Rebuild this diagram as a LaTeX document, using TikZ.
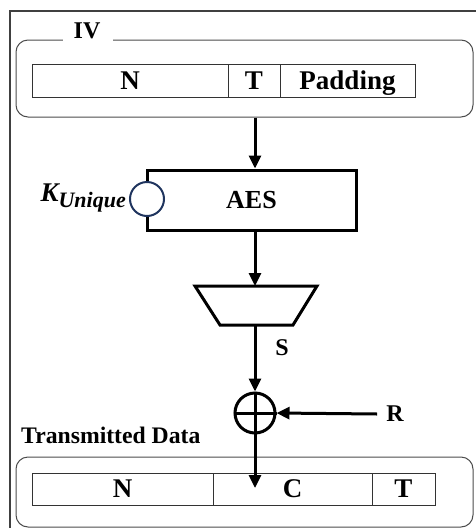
\documentclass[tikz,border=0pt]{standalone}
\usepackage{fontspec}
\setmainfont{Liberation Serif}
\usetikzlibrary{arrows.meta}
\definecolor{keyblue}{RGB}{31,52,94}
\begin{document}
\begin{tikzpicture}[x=1pt,y=-1pt,
  outerframe/.style={draw=black!75, line width=1.5pt},
  grp/.style={draw=black!70, line width=1pt, rounded corners=12pt, inner sep=0pt},
  cell/.style={draw=black!80, line width=1pt, inner sep=0pt, text height=17.9pt, text depth=0pt,
    font=\fontsize{27}{27}\selectfont\bfseries},
  flow/.style={line width=3pt, -{Triangle[length=13pt,width=12pt]}},
  lbl/.style={font=\fontsize{24}{24}\selectfont\bfseries, inner sep=0pt, text height=15.9pt, text depth=0pt}
]
\useasboundingbox (0,0) rectangle (475,528);
\draw[outerframe] (10,540) -- (10,11) -- (480,11);

% IV group
\node[grp, minimum width=457pt, minimum height=77pt] (ivbox) at (244.5,78.5) {};
\node[fill=white, minimum width=50pt, minimum height=5pt, inner sep=0pt] (ivgap) at (88,40) {};
\node[lbl] (iv) at (87,30.5) {IV};
\node[cell, minimum width=196pt, minimum height=33pt] (n1) at (130,80.5) {N};
\node[cell, minimum width=52pt, minimum height=33pt] (t1) at (254,80.5) {T};
\node[cell, minimum width=135pt, minimum height=33pt] (p1) at (347.5,80.5) {Padding};

\coordinate (ax) at (255,0);

% AES
\node[draw, line width=3pt, minimum width=209pt, minimum height=60pt, inner sep=0pt,
  text height=17.2pt, text depth=0pt,
  font=\fontsize{26}{26}\selectfont\bfseries] (aes) at (251.5,200) {AES};
\node[circle, draw=keyblue, line width=2pt, fill=white, minimum size=34pt, inner sep=0pt] (key) at (147,199) {};
\node[anchor=base east, inner sep=0pt] (klbl) at (126,201)
  {\fontsize{27}{27}\selectfont\bfseries\itshape K\raisebox{-6pt}{\fontsize{22}{22}\selectfont Unique}};

\draw[flow] (ivbox.south -| ax) -- (aes.north -| ax);

% truncation (trapezoid)
\coordinate (muxtop) at (256,286);
\coordinate (muxbot) at (256,325);
\draw[line width=3pt, line join=miter] (195,286) -- (317,286) -- (293,325) -- (220,325) -- cycle;
\draw[flow] (aes.south -| ax) -- (muxtop -| ax);

% XOR
\node[circle, draw, line width=3pt, minimum size=40pt, inner sep=0pt] (xor) at (255,413) {};
\draw[line width=3pt] (xor.north) -- (xor.south) (xor.west) -- (xor.east);
\draw[flow] (muxbot -| ax) -- (xor.north);
\node[lbl] (s) at (282,348) {S};
\node[lbl] (r) at (395,414) {R};
\draw[flow] ([xshift=-9pt]r.west) -- (xor.east);

% Transmitted data
\node[lbl, anchor=west, text height=15.7pt, font=\fontsize{23.7}{23.7}\selectfont\bfseries] (td) at (21,436) {Transmitted Data};
\node[grp, minimum width=457pt, minimum height=70pt] (tdbox) at (244.5,492) {};
\node[cell, minimum width=181pt, minimum height=32pt] (n2) at (122.5,489) {N};
\node[cell, minimum width=159pt, minimum height=32pt] (c2) at (292.5,489) {C};
\node[cell, minimum width=63pt, minimum height=32pt] (t2) at (403.5,489) {T};
\coordinate (tip) at (255,488);
\draw[flow] (xor.south) -- (tip);
\end{tikzpicture}
\end{document}
